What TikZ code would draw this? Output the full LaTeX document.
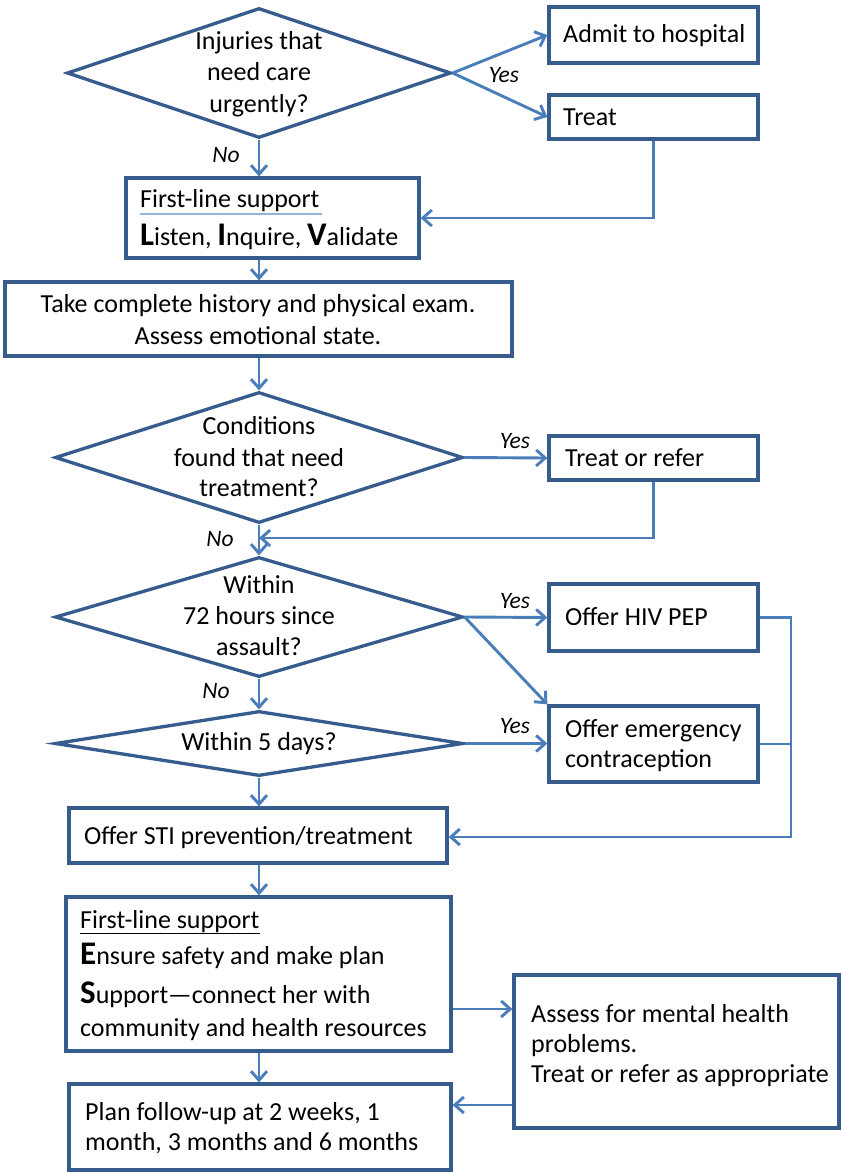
\documentclass[tikz,border=0pt]{standalone}
\usepackage{fontspec}
\setmainfont{Carlito}
\usetikzlibrary{arrows.meta,shapes.geometric}
\definecolor{boxc}{HTML}{365C8E}
\definecolor{arrc}{HTML}{4A7EBB}
\definecolor{ulc}{HTML}{95B3D7}
\newcommand\bigltr[1]{{\fontsize{33}{33}\selectfont\bfseries #1}}
\begin{document}
\begin{tikzpicture}[x=1pt,y=-1pt,
  bx/.style={draw=boxc, line width=3.3pt, inner sep=0pt, rectangle},
  dm/.style={draw=boxc, line width=3.3pt, inner sep=0pt, diamond},
  tx/.style={anchor=base, inner sep=0pt, font=\fontsize{26}{31}\selectfont},
  txl/.style={tx, anchor=base west},
  lab/.style={anchor=base, inner sep=0pt, font=\fontsize{23.5}{28}\selectfont\itshape},
  arr/.style={draw=arrc, line width=2.9pt, -{Straight Barb[length=9pt,width=16pt]}},
  ln/.style={draw=arrc, line width=2.9pt}]
\useasboundingbox (0,0) rectangle (841,1172);
\fill[white] (0,0) rectangle (841,1172);

% diamonds
\node[dm, minimum width=384pt, minimum height=130pt] (d1) at (259,73) {};
\node[dm, minimum width=408pt, minimum height=131pt] (d2) at (259,457.5) {};
\node[dm, minimum width=408pt, minimum height=120pt] (d3) at (259,617) {};
\node[dm, minimum width=408pt, minimum height=65pt] (d4) at (259,743.5) {};

% boxes
\node[bx, minimum width=209pt, minimum height=56pt] (admit) at (653.5,35) {};
\node[bx, minimum width=209pt, minimum height=44pt] (treat) at (653.5,117) {};
\node[bx, minimum width=293pt, minimum height=80pt] (fl1) at (272.5,218) {};
\node[bx, minimum width=507pt, minimum height=74pt] (hist) at (258.5,319) {};
\node[bx, minimum width=209pt, minimum height=44pt] (tor) at (653.5,458) {};
\node[bx, minimum width=209pt, minimum height=67pt] (hiv) at (653.5,617.5) {};
\node[bx, minimum width=209pt, minimum height=76pt] (emerg) at (653.5,744) {};
\node[bx, minimum width=378pt, minimum height=55pt] (sti) at (258,835.5) {};
\node[bx, minimum width=385pt, minimum height=154pt] (fl2) at (258.5,974) {};
\node[bx, minimum width=325pt, minimum height=153pt] (mental) at (676.5,1051.5) {};
\node[bx, minimum width=382pt, minimum height=86pt] (plan) at (260,1127) {};

% texts
\node[tx] (d1a) at (259,50) {Injuries that};
\node[tx] (d1b) at (259,81) {need care};
\node[tx] (d1c) at (259,112) {urgently?};
\node[txl] (admitt) at (563,43) {Admit to hospital};
\node[txl] (treatt) at (563,125) {Treat};
\node[txl] (fl1a) at (140,207) {First-line support};
\draw[ulc, line width=1.3pt] (fl1a.base west) ++(0,7) -- ++(182,0);
\node[txl] (fl1b) at (140,245) {\bigltr{L}isten, \bigltr{I}nquire, \bigltr{V}alidate};
\node[tx] (hista) at (258,312) {Take complete history and physical exam.};
\node[tx] (histb) at (258,344) {Assess emotional state.};
\node[tx] (d2a) at (259,434) {Conditions};
\node[tx] (d2b) at (259,466) {found that need};
\node[tx] (d2c) at (259,496) {treatment?};
\node[txl] (tort) at (565,466) {Treat or refer};
\node[tx] (d3a) at (259,593) {Within};
\node[tx] (d3b) at (259,624) {72 hours since};
\node[tx] (d3c) at (259,655) {assault?};
\node[txl] (hivt) at (565,625) {Offer HIV PEP};
\node[tx] (d4a) at (259,750) {Within 5 days?};
\node[txl] (emerga) at (565,737) {Offer emergency};
\node[txl] (emergb) at (565,767) {contraception};
\node[txl] (stit) at (84,844) {Offer STI prevention/treatment};
\node[txl] (fl2a) at (80,928) {\underline{First-line support}};
\node[txl] (fl2b) at (80,964) {\bigltr{E}nsure safety and make plan};
\node[txl] (fl2c) at (80,1003) {\bigltr{S}upport—connect her with};
\node[txl] (fl2d) at (80,1036) {community and health resources};
\node[txl] (menta) at (531,1022) {Assess for mental health};
\node[txl] (mentb) at (531,1052) {problems.};
\node[txl] (mentc) at (531,1082) {Treat or refer as appropriate};
\node[txl] (plana) at (85,1120) {Plan follow-up at 2 weeks, 1};
\node[txl] (planb) at (85,1150) {month, 3 months and 6 months};

% labels
\node[lab] (yes1) at (504,82) {Yes};
\node[lab] (no1) at (226,162) {No};
\node[lab] (yes2) at (515,448) {Yes};
\node[lab] (no2) at (220,546) {No};
\node[lab] (yes3) at (515,608) {Yes};
\node[lab] (no3) at (216,698) {No};
\node[lab] (yes4) at (515,733) {Yes};

% connectors
\coordinate (j2) at (259,538);
\coordinate (rc) at (791,837);
\coordinate (a1) at (0,1009);
\coordinate (a2) at (0,1105);
\draw[arr] (d1.east) -- (admit.west);
\draw[arr] (d1.east) -- (treat.west);
\draw[arr] (d1.south) -- (d1.south |- fl1.north);
\draw[arr] (treat.south) |- (fl1.east);
\draw[arr] (d1.south |- fl1.south) -- (d1.south |- hist.north);
\draw[arr] (d2.north |- hist.south) -- (d2.north);
\draw[arr] (d2.east) -- (tor.west);
\draw[arr] (tor.south) |- (j2);
\draw[arr] (d2.south) -- (d3.north);
\draw[arr] (d3.east) -- (hiv.west);
\draw[arr] (d3.east) -- (emerg.north west);
\draw[arr] (d3.south) -- (d4.north);
\draw[arr] (d4.east) -- (d4.east -| emerg.west);
\draw[arr] (d4.south) -- (d4.south |- sti.north);
\draw[arr] (hiv.east) -| (rc) -- (sti.east |- rc);
\draw[ln] (emerg.east) -- (emerg.east -| rc);
\draw[arr] (d4.south |- sti.south) -- (d4.south |- fl2.north);
\draw[arr] (fl2.east |- a1) -- (mental.west |- a1);
\draw[arr] (d4.south |- fl2.south) -- (d4.south |- plan.north);
\draw[arr] (mental.west |- a2) -- (plan.east |- a2);
\end{tikzpicture}
\end{document}
